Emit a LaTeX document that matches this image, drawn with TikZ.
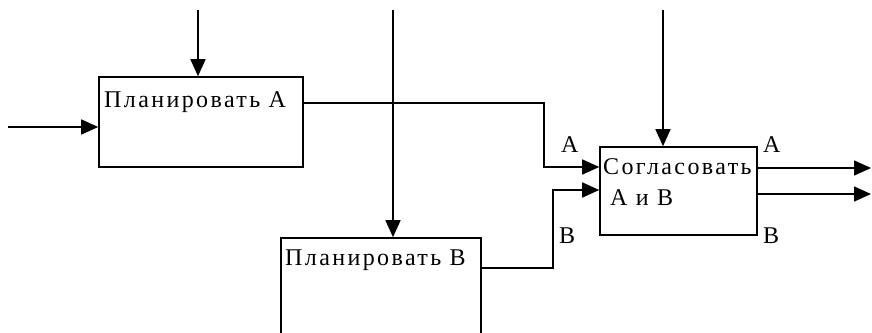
\documentclass[tikz,border=0pt]{standalone}
\usepackage{fontspec}
\setmainfont[LetterSpace=10]{Liberation Serif}
\usetikzlibrary{arrows.meta}
\begin{document}
\begin{tikzpicture}[x=1pt,y=-1pt,
  box/.style={draw,line width=1.6pt,rectangle,inner sep=0pt},
  txt/.style={anchor=base west,inner sep=0pt,font=\fontsize{24}{26}\selectfont},
  lbl/.style={anchor=base west,inner sep=0pt,font=\fontsize{24}{26}\selectfont},
  arr/.style={line width=1.6pt,-{Triangle[length=17pt,width=15pt]}}]
\useasboundingbox (0,0) rectangle (872,332);
% boxes
\node[box,minimum width=204pt,minimum height=90pt] (pa) at (201,122) {};
\node[box,minimum width=200pt,minimum height=110pt] (pb) at (381,293) {};
\node[box,minimum width=157pt,minimum height=88pt] (sc) at (678.5,191) {};
% texts
\node[txt] (tpa) at (104,107) {Планировать А};
\node[txt] (tpb) at (285,265) {Планировать В};
\node[txt] (tsc1) at (603,174) {Согласовать};
\node[txt] (tsc2) at (610,205) {А и В};
% labels
\node[lbl] (la1) at (561,152) {А};
\node[lbl] (lb1) at (559,243) {В};
\node[lbl] (la2) at (763,152) {А};
\node[lbl] (lb2) at (763,243) {В};
% free ends
\coordinate (ta) at (198,10);
\coordinate (tb) at (393,10);
\coordinate (tc) at (663,10);
\coordinate (in) at (8,127);
\coordinate (oa) at (871,168);
\coordinate (ob) at (871,194);
% connectors
\draw[arr] (ta) -- (ta |- pa.north);
\draw[arr] (tb) -- (tb |- pb.north);
\draw[arr] (tc) -- (tc |- sc.north);
\draw[arr] (in) -- (in -| pa.west);
\draw[arr] (pa.east |- 0,103) -| (544,167) -- (sc.west |- 0,167);
\draw[arr] (pb.east |- 0,268) -| (553,190) -- (sc.west |- 0,190);
\draw[arr] (sc.east |- oa) -- (oa);
\draw[arr] (sc.east |- ob) -- (ob);
\end{tikzpicture}
\end{document}
